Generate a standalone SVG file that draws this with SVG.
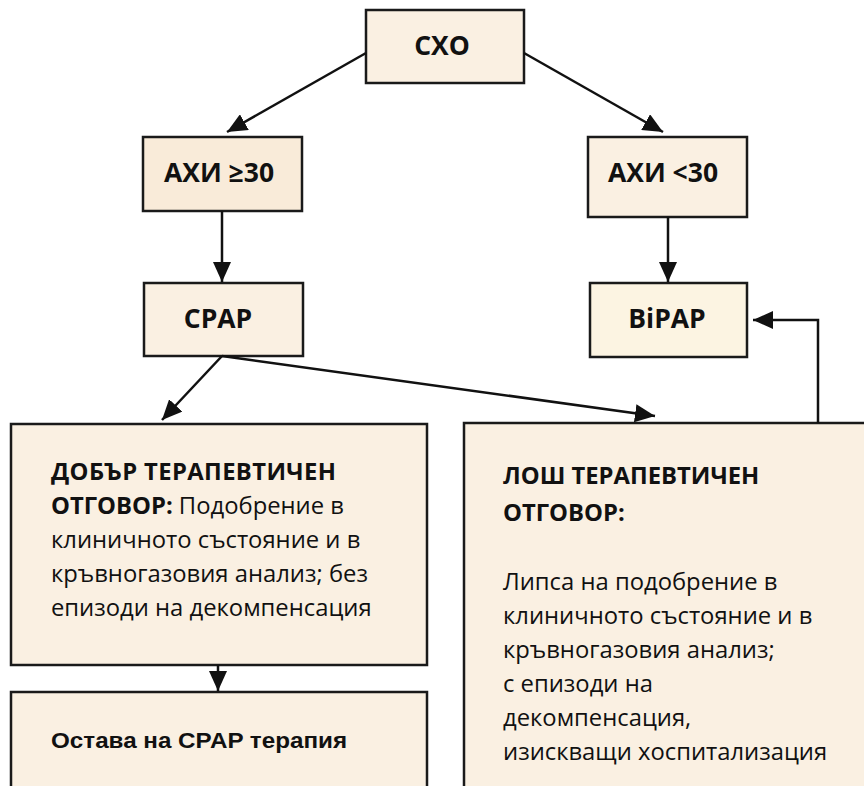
<svg xmlns="http://www.w3.org/2000/svg" width="864" height="786" viewBox="0 0 864 786">
<style>
.box{fill:#FAF0E2;stroke:#1a1a1a;stroke-width:2.5}
.hd{font-family:"Open Sans","Noto Sans",sans-serif;font-weight:bold;font-size:26.5px;fill:#111;text-anchor:middle}
.tx{font-family:"Open Sans","Noto Sans",sans-serif;font-size:23.8px;fill:#111}
.b{font-weight:bold}
.cn{fill:none;stroke:#111;stroke-width:2.5}
</style>
<defs>
<marker id="ah" markerUnits="userSpaceOnUse" markerWidth="22" markerHeight="18" refX="20" refY="9" orient="auto">
<path d="M0,0 L20,9 L0,18 Z" fill="#111"/>
</marker>
</defs>
<g id="n-cxo"><rect class="box" x="366" y="10" width="158" height="73"/><text class="hd" x="442" y="55">СХО</text></g>
<g id="n-ahi30"><rect class="box" x="143" y="137" width="159" height="74" style="fill:#F9EBD9"/><text class="hd" x="219" y="182">АХИ ≥30</text></g>
<g id="n-ahi-lt30"><rect class="box" x="588" y="137" width="159" height="80"/><text class="hd" x="663" y="182">АХИ &lt;30</text></g>
<g id="n-cpap"><rect class="box" x="144" y="283" width="159" height="73"/><text class="hd" x="218" y="328">CPAP</text></g>
<g id="n-bipap"><rect class="box" x="590" y="283" width="157" height="74" style="fill:#FCF4E2"/><text class="hd" x="667" y="328">BiPAP</text></g>
<g id="n-good"><rect class="box" x="11" y="424" width="416" height="241"/>
<text class="tx" x="51"><tspan class="b" x="51" y="480" textLength="285">ДОБЪР ТЕРАПЕВТИЧЕН</tspan><tspan x="51" y="514"><tspan class="b">ОТГОВОР:</tspan> Подобрение в</tspan><tspan x="51" y="548">клиничното състояние и в</tspan><tspan x="51" y="582">кръвногазовия анализ; без</tspan><tspan x="51" y="616">епизоди на декомпенсация</tspan></text></g>
<g id="n-bad"><rect class="box" x="464" y="423" width="420" height="380"/>
<text class="tx" x="503"><tspan class="b" x="503" y="484">ЛОШ ТЕРАПЕВТИЧЕН</tspan><tspan class="b" x="503" y="521">ОТГОВОР:</tspan><tspan x="503" y="590">Липса на подобрение в</tspan><tspan x="503" y="624">клиничното състояние и в</tspan><tspan x="503" y="658">кръвногазовия анализ;</tspan><tspan x="503" y="692">с епизоди на</tspan><tspan x="503" y="726">декомпенсация,</tspan><tspan x="503" y="760">изискващи хоспитализация</tspan></text></g>
<g id="n-stay"><rect class="box" x="11" y="692" width="416" height="110"/>
<text x="51" y="748" style="font-family:'Liberation Sans',Arial,sans-serif;font-weight:bold;font-size:22.5px;fill:#111" textLength="296" lengthAdjust="spacingAndGlyphs">Остава на CPAP терапия</text></g>
<g id="connectors">
<line class="cn" x1="366" y1="53" x2="227" y2="132" marker-end="url(#ah)"/>
<line class="cn" x1="524" y1="53" x2="663" y2="132" marker-end="url(#ah)"/>
<line class="cn" x1="222" y1="211" x2="222" y2="282" marker-end="url(#ah)"/>
<line class="cn" x1="668" y1="217" x2="668" y2="282" marker-end="url(#ah)"/>
<line class="cn" x1="222" y1="356" x2="162" y2="420" marker-end="url(#ah)"/>
<line class="cn" x1="222" y1="356" x2="655" y2="416" marker-end="url(#ah)"/>
<polyline class="cn" points="818,423 818,320 753,320" marker-end="url(#ah)"/>
<line class="cn" x1="218" y1="665" x2="218" y2="691" marker-end="url(#ah)"/>
</g>
</svg>
